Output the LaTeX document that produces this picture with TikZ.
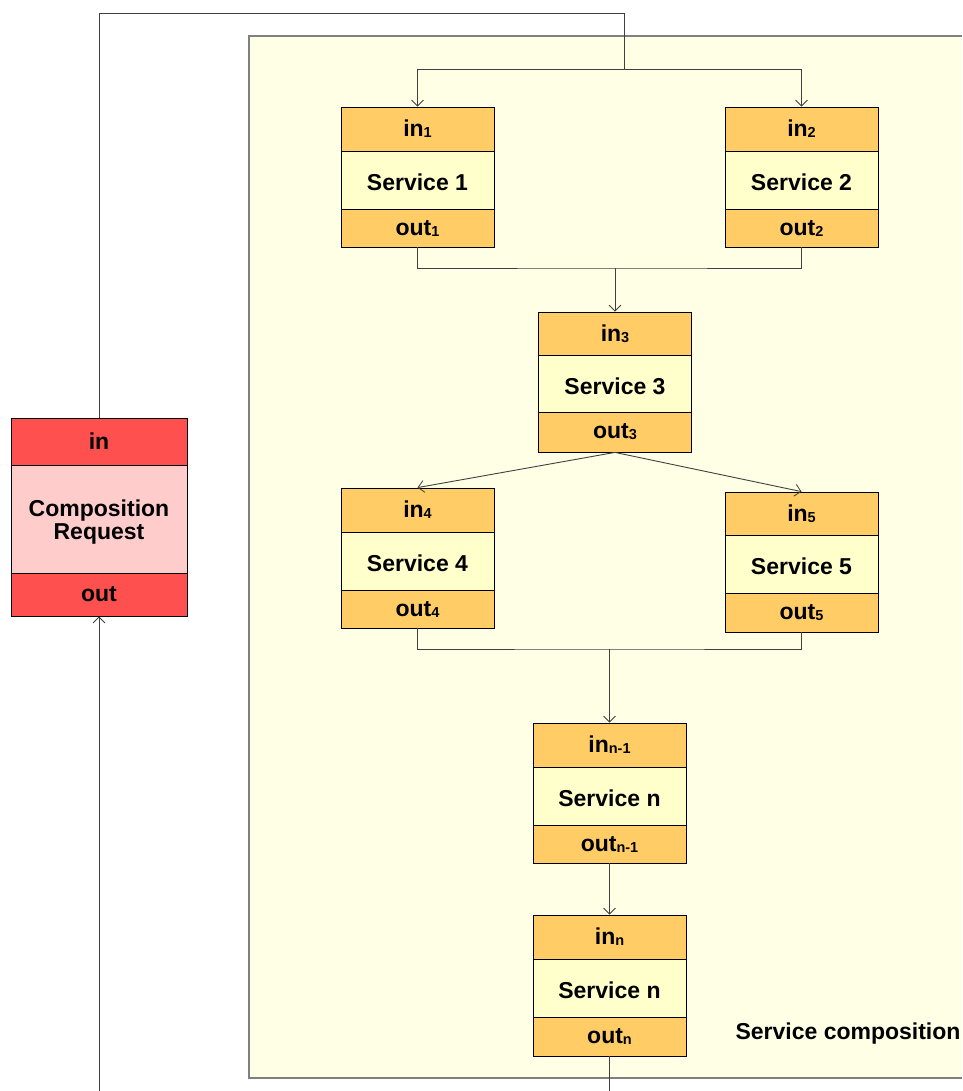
\documentclass[tikz,border=0pt]{standalone}
\usepackage{fontspec}
\setmainfont{Liberation Sans}
\usetikzlibrary{arrows.meta}
\definecolor{bandorange}{HTML}{FFCC66}
\definecolor{midyellow}{HTML}{FFFFCC}
\definecolor{areayellow}{HTML}{FFFFE6}
\definecolor{crred}{HTML}{FF5050}
\definecolor{crpink}{HTML}{FFCCCC}
\definecolor{wire}{HTML}{404040}
\definecolor{framegray}{HTML}{808080}
\newcommand\idx[1]{{\fontsize{14.5}{14.5}\selectfont\raisebox{-1pt}{#1}}}
% one service: id, centre x, top, in/mid split, mid/out split, bottom, labels
\newcommand\svcbox[9]{%
  \node[band, minimum height={(#4-#3)*1pt}] (#1in) at ({#2},{(#3+#4)/2}) {#7};
  \node[core, minimum height={(#5-#4)*1pt}] (#1) at ({#2},{(#4+#5)/2}) {#8};
  \node[band, minimum height={(#6-#5)*1pt}] (#1out) at ({#2},{(#5+#6)/2}) {#9};
}
\begin{document}
\begin{tikzpicture}[x=1pt,y=-1pt,
  txt/.style={font=\bfseries\fontsize{23}{24}\selectfont, text=black},
  band/.style={txt, rectangle, draw=black, line width=0.8pt, fill=bandorange,
    inner sep=0pt, minimum width=153pt},
  core/.style={txt, rectangle, draw=black, line width=0.8pt, fill=midyellow,
    inner sep=0pt, minimum width=153pt, text height=21pt, text depth=0pt},
  conn/.style={draw=wire, line width=0.9pt},
  arr/.style={conn, -{Straight Barb[length=6pt,width=12pt,line width=0.8pt]}}]
\useasboundingbox (0,0) rectangle (962,1091);

% service composition area
\fill[areayellow] (249,36) rectangle (962,1078);
\draw[framegray, line width=1.4pt] (962,36) -- (249,36) -- (249,1078) -- (962,1078);
\node[txt, anchor=west] (caption) at (732,1034) {Service composition};

% composition request
\node[band, fill=crred, minimum width=176pt, minimum height=47pt] (crin) at (99,441.5) {in};
\node[core, fill=crpink, minimum width=176pt, minimum height=108pt, align=center,
  text height=44pt, text depth=3pt] (cr) at (99,519) {Composition\\[-1pt]Request};
\node[band, fill=crred, minimum width=176pt, minimum height=43pt] (crout) at (99,594.5) {out};

% services
\svcbox{sa}{417.5}{107}{151}{209}{247}{in\idx{1}}{Service 1}{out\idx{1}}
\svcbox{sb}{801.5}{107}{151}{209}{247}{in\idx{2}}{Service 2}{out\idx{2}}
\svcbox{sc}{615}{312}{355}{412}{452}{in\idx{3}}{Service 3}{out\idx{3}}
\svcbox{sd}{417.5}{488}{532}{590}{628}{in\idx{4}}{Service 4}{out\idx{4}}
\svcbox{se}{801.5}{492}{535}{593}{632}{in\idx{5}}{Service 5}{out\idx{5}}
\svcbox{sm}{609.5}{723}{767}{825}{863}{in\idx{n-1}}{Service n}{out\idx{n-1}}
\svcbox{sn}{609.5}{915}{959}{1017}{1056}{in\idx{n}}{Service n}{out\idx{n}}

% junction points
\coordinate (topright) at (624,13);
\coordinate (split) at (624,69);
\coordinate (joina) at (615,268);
\coordinate (joinb) at (609.5,649);
\coordinate (exit) at (609.5,1091);
\coordinate (entry) at (99,1091);

% connectors
\draw[conn] (crin.north) |- (topright) -- (split);
\draw[arr] (split) -| (sain.north);
\draw[arr] (split) -| (sbin.north);
\draw[conn] (saout.south) |- (joina) -| (sbout.south);
\draw[arr] (joina) -- (scin.north);
\draw[arr] (scout.south) -- (sdin.north);
\draw[arr] (scout.south) -- (sein.north);
\draw[conn] (sdout.south) |- (joinb) -| (seout.south);
\draw[arr] (joinb) -- (smin.north);
\draw[arr] (smout.south) -- (snin.north);
\draw[conn] (snout.south) -- (exit);
\draw[arr] (entry) -- (crout.south);
\end{tikzpicture}
\end{document}
